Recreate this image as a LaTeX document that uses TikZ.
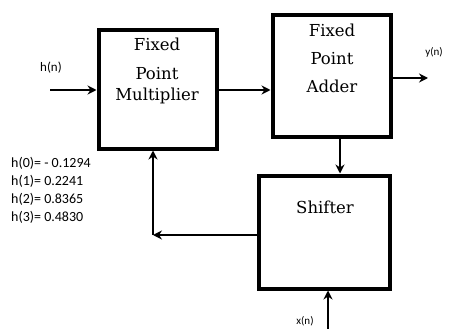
\documentclass[tikz,border=0pt]{standalone}
\usepackage{fontspec}
\setmainfont{DejaVu Serif}
\newfontfamily\lblfont{Carlito}
\usetikzlibrary{positioning,arrows.meta}

\begin{document}
\begin{tikzpicture}[x=1pt, y=-1pt,
      blok/.style={draw, line width=4pt, inner sep=0pt},
      blokText/.style={font=\fontsize{16.5}{18}\selectfont, align=center, inner sep=0pt},
      sig/.style={font=\lblfont\fontsize{13}{14}\selectfont, inner sep=0pt},
      pijl/.style={-{Stealth[length=9pt, width=9pt, inset=3pt]}, line width=2pt}]
    \useasboundingbox (0,0) rectangle (453,329);
    % blocks
    \node[blok, minimum width=118pt, minimum height=118pt] (mult) at (157.5,89.5) {};
    \node[blok, minimum width=118pt, minimum height=121pt] (add) at (331.5,76) {};
    \node[blok, minimum width=131pt, minimum height=113pt] (shift) at (324,232) {};
    \node[blokText] (tmult1) at (157,44) {Fixed};
    \node[blokText] (tmult2) at (157,74) {Point};
    \node[blokText] (tmult3) at (157,96) {Multiplier};
    \node[blokText] (tadd1) at (332,30) {Fixed};
    \node[blokText] (tadd2) at (332,59) {Point};
    \node[blokText] (tadd3) at (332,86) {Adder};
    \node[blokText] (tshift) at (325,207) {Shifter};
    % signals
    \node[sig] (hn) at (51,68) {h(n)};
    \node[sig, font=\lblfont\fontsize{11}{12}\selectfont] (yn) at (434,52) {y(n)};
    \node[sig, font=\lblfont\fontsize{11}{12}\selectfont] (xn) at (305,321) {x(n)};
    \node[sig, anchor=west, align=left, font=\lblfont\fontsize{14}{18}\selectfont] (coef) at (11,190.5)
      {h(0)= - 0.1294\\ h(1)= 0.2241\\ h(2)= 0.8365\\ h(3)= 0.4830};
    \coordinate (hin) at (50,90);
    \coordinate (yout) at (428,78);
    \coordinate (xin) at (328,329);
    \coordinate (fb) at (153,235);
    \draw[pijl] (hin) -- (mult.west |- hin);
    \draw[pijl] (mult.east |- hin) -- (add.west |- hin);
    \draw[pijl] (add.east |- yout) -- (yout);
    \draw[pijl] (add.south -| 340,0) -- (shift.north -| 340,0);
    \draw[pijl] (xin) -- (shift.south -| xin);
    \draw[pijl] (shift.west |- fb) -- (fb);
    \draw[pijl] (fb) -- (mult.south -| fb);
  \end{tikzpicture}
\end{document}
